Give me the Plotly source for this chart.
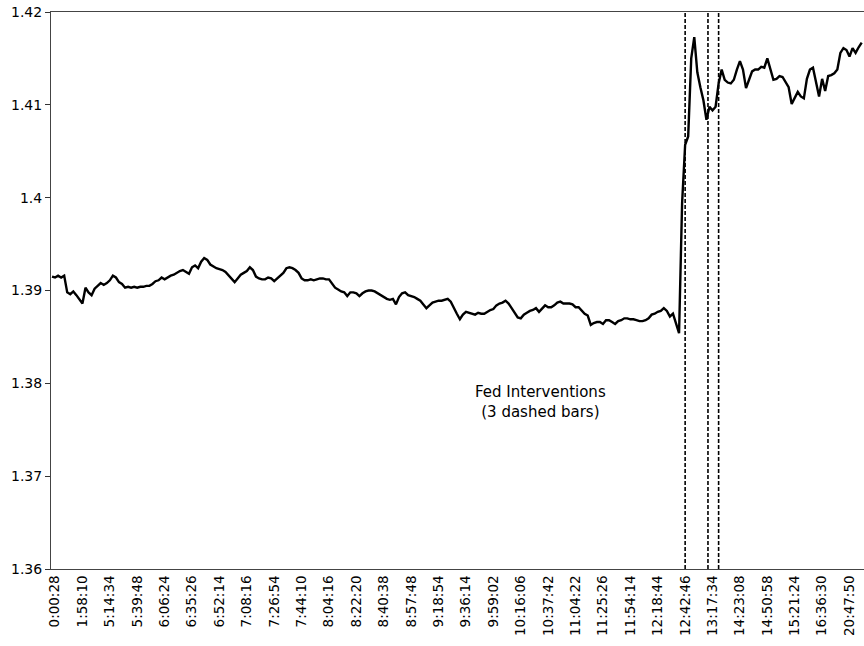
import plotly.graph_objects as go

# EUR/USD-like rate, one value per sample
rate = [
    1.3915, 1.3914, 1.3916, 1.3914, 1.3916, 1.3898, 1.3896, 1.3899, 1.3895, 1.3891,
    1.3886, 1.3903, 1.3898, 1.3895, 1.3902, 1.3905, 1.3908, 1.3906, 1.3908, 1.3911,
    1.3916, 1.3914, 1.3909, 1.3907, 1.3903, 1.3904, 1.3903, 1.3904, 1.3903, 1.3904,
    1.3904, 1.3905, 1.3905, 1.3907, 1.3910, 1.3911, 1.3914, 1.3912, 1.3914, 1.3916,
    1.3917, 1.3919, 1.3921, 1.3922, 1.3920, 1.3918, 1.3925, 1.3927, 1.3924, 1.3931,
    1.3935, 1.3933, 1.3928, 1.3926, 1.3924, 1.3923, 1.3922, 1.3920, 1.3916, 1.3913,
    1.3909, 1.3913, 1.3917, 1.3919, 1.3921, 1.3925, 1.3922, 1.3915, 1.3913, 1.3912,
    1.3912, 1.3914, 1.3913, 1.3910, 1.3913, 1.3915, 1.3919, 1.3924, 1.3925, 1.3924,
    1.3922, 1.3919, 1.3913, 1.3911, 1.3911, 1.3912, 1.3911, 1.3912, 1.3913, 1.3913,
    1.3912, 1.3912, 1.3907, 1.3903, 1.3901, 1.3899, 1.3898, 1.3894, 1.3898, 1.3898,
    1.3897, 1.3894, 1.3897, 1.3899, 1.3900, 1.3900, 1.3899, 1.3897, 1.3895, 1.3893,
    1.3891, 1.3890, 1.3891, 1.3885, 1.3893, 1.3897, 1.3898, 1.3895, 1.3894, 1.3893,
    1.3891, 1.3889, 1.3885, 1.3881, 1.3884, 1.3887, 1.3888, 1.3889, 1.3889, 1.3890,
    1.3891, 1.3888, 1.3881, 1.3875, 1.3869, 1.3874, 1.3877, 1.3876, 1.3875, 1.3874,
    1.3876, 1.3875, 1.3875, 1.3877, 1.3879, 1.3880, 1.3884, 1.3886, 1.3887, 1.3889,
    1.3886, 1.3881, 1.3876, 1.3871, 1.3870, 1.3874, 1.3876, 1.3878, 1.3879, 1.3881,
    1.3877, 1.3881, 1.3884, 1.3882, 1.3882, 1.3884, 1.3887, 1.3888, 1.3886, 1.3886,
    1.3886, 1.3885, 1.3882, 1.3882, 1.3878, 1.3875, 1.3873, 1.3863, 1.3865, 1.3866,
    1.3866, 1.3864, 1.3868, 1.3868, 1.3866, 1.3864, 1.3867, 1.3868, 1.3870, 1.3870,
    1.3869, 1.3869, 1.3868, 1.3867, 1.3867, 1.3868, 1.3870, 1.3874, 1.3875, 1.3877,
    1.3878, 1.3881, 1.3878, 1.3872, 1.3875, 1.3863, 1.3854, 1.3994, 1.4057, 1.4066,
    1.4150, 1.4173, 1.4135, 1.4119, 1.4105, 1.4084, 1.4098, 1.4094, 1.4098, 1.4123,
    1.4138, 1.4127, 1.4124, 1.4123, 1.4127, 1.4138, 1.4147, 1.4138, 1.4118, 1.4127,
    1.4136, 1.4138, 1.4138, 1.4141, 1.4140, 1.4150, 1.4138, 1.4127, 1.4128, 1.4131,
    1.4130, 1.4124, 1.4119, 1.4101, 1.4108, 1.4114, 1.4109, 1.4107, 1.4128, 1.4138,
    1.4140, 1.4123, 1.4109, 1.4128, 1.4115, 1.4131, 1.4132, 1.4134, 1.4138, 1.4156,
    1.4161, 1.4159, 1.4152, 1.4161, 1.4156, 1.4162, 1.4167,
]
sample = list(range(len(rate)))

# category labels shown on the axis (every 9th sample, starting at sample 1)
tick_labels = [
    "0:00:28", "1:58:10", "5:14:34", "5:39:48", "6:06:24", "6:35:26", "6:52:14",
    "7:08:16", "7:26:54", "7:44:10", "8:04:16", "8:22:20", "8:40:38", "8:57:48",
    "9:18:54", "9:36:14", "9:59:02", "10:16:06", "10:37:42", "11:04:22", "11:25:26",
    "11:54:14", "12:18:44", "12:42:46", "13:17:34", "14:23:08", "14:50:58",
    "15:21:24", "16:36:30", "20:47:50",
]
tick_positions = [1 + 9 * i for i in range(len(tick_labels))]

y_ticks = [1.36, 1.37, 1.38, 1.39, 1.40, 1.41, 1.42]
y_tick_text = ["1.36", "1.37", "1.38", "1.39", "1.4", "1.41", "1.42"]

# Fed intervention times (sample positions)
interventions = [208, 215.5, 219]

FONT = "DejaVu Sans, Verdana, sans-serif"

fig = go.Figure()
fig.add_trace(go.Scatter(
    x=sample, y=rate, mode="lines",
    line=dict(color="black", width=2.4),
    showlegend=False, hoverinfo="skip",
))

for xi in interventions:
    fig.add_shape(type="line", xref="x", yref="paper", x0=xi, x1=xi, y0=0, y1=1,
                  line=dict(color="black", width=1.6, dash="4px,2px"))

fig.add_annotation(
    xref="paper", yref="paper", x=0.6015, y=0.262,
    text="Fed Interventions<br>(3 dashed bars)", showarrow=False,
    font=dict(family=FONT, size=15, color="black"), align="center",
)

fig.update_layout(
    width=864, height=646,
    margin=dict(l=51, r=0, t=12, b=77),
    paper_bgcolor="white", plot_bgcolor="white",
    font=dict(family=FONT, color="black"),
)
fig.update_xaxes(
    range=[-0.33, 266.76], tickmode="array", tickvals=tick_positions,
    ticktext=tick_labels, tickangle=-90, ticks="", showgrid=False, zeroline=False,
    showline=True, linecolor="#444", linewidth=1, mirror=True, automargin=False,
    tickfont=dict(family=FONT, size=13.5, color="black"),
)
fig.update_yaxes(
    range=[1.36, 1.42], tickmode="array", tickvals=y_ticks, ticktext=y_tick_text,
    ticks="outside", ticklen=5, tickcolor="#333", showgrid=False, zeroline=False,
    showline=True, linecolor="#444", linewidth=1, automargin=False,
    tickfont=dict(family=FONT, size=14, color="black"),
)

fig.write_html(
    "out.html",
    config={"displayModeBar": False},
    post_script="document.body.style.margin='0';document.body.style.overflow='hidden';",
)
